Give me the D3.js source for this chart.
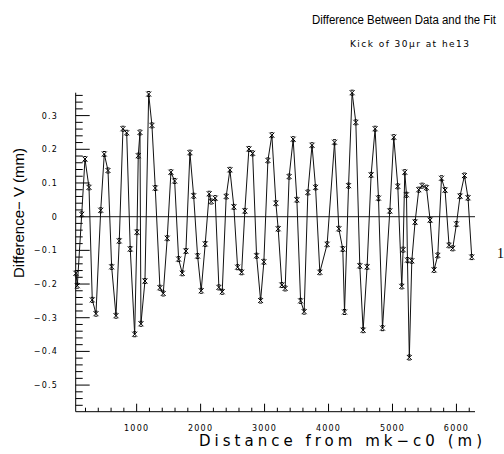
<!DOCTYPE html>
<html><head><meta charset="utf-8">
<script src="https://cdn.jsdelivr.net/npm/d3@7"></script>
<style>
html,body{margin:0;padding:0;background:#fff;}
</style></head>
<body><svg id="c" width="504" height="454" font-family="Liberation Sans, sans-serif"></svg>
<script>
const titleText = "Difference Between Data and the Fit";
const subtitleText = "Kick of 30\u03bcr at he13";
const xLabel = "Distance from mk\u2212c0 (m)";
const yLabel = "Difference\u2212 V (mm)";
const xTickValues = [1000, 2000, 3000, 4000, 5000, 6000];
const yTickValues = [-0.5, -0.4, -0.3, -0.2, -0.1, 0, 0.1, 0.2, 0.3];
const distance = [50,72,141,192,255,306,364,438,494,552,609,677,728,786,844,900,969,1005,1025,1052,1067,1130,1188,1239,
  1291,1364,1416,1478,1536,1594,1656,1713,1770,1833,1891,1953,2009,2072,2134,2166,2228,2286,2338,2400,2458,
  2520,2578,2641,2692,2755,2813,2875,2938,2989,3052,3114,3177,3213,3270,3322,3384,3447,3505,3563,3619,3677,3742,
  3797,3864,3978,4094,4161,4223,4250,4313,4369,4427,4489,4541,4603,4666,4728,4781,4844,4958,5020,5083,5145,5166,
  5192,5219,5234,5263,5302,5353,5411,5463,5531,5588,5650,5708,5766,5822,5884,5942,6000,6056,6125,6181,6239];
const diffV = [-0.168,-0.205,0.007,0.171,0.087,-0.247,-0.288,0.019,0.186,0.137,-0.149,-0.294,-0.072,0.261,0.249,-0.096,-0.349,-0.046,0.181,0.250,-0.318,-0.191,0.364,0.271,
  0.085,-0.211,-0.228,-0.064,0.132,0.106,-0.126,-0.168,-0.102,0.190,0.062,-0.117,-0.220,-0.081,0.068,0.045,0.055,-0.210,-0.223,0.060,0.139,
  0.029,-0.150,-0.165,0.017,0.201,0.188,-0.116,-0.249,-0.134,0.167,0.242,0.040,-0.036,-0.203,-0.213,0.119,0.230,0.050,-0.250,-0.282,0.072,0.212,
  0.087,-0.165,-0.082,0.221,-0.036,-0.096,-0.283,0.092,0.368,0.280,-0.146,-0.337,-0.149,0.124,0.261,0.055,-0.331,0.017,0.236,0.090,-0.207,-0.098,
  0.132,0.065,-0.129,-0.418,-0.131,-0.016,0.080,0.092,0.086,-0.010,-0.158,-0.115,0.114,0.079,-0.085,-0.094,-0.022,0.061,0.122,0.056,-0.120];

const svg = d3.select("#c");
const L = 75.7, R = 475, T = 92.7, B = 411.7;
const x = d3.scaleLinear().domain([47, 6290]).range([L, R]);
const y = d3.scaleLinear().domain([-0.579, 0.368]).range([B, T]);

// title
svg.append("text").attr("x", 312).attr("y", 24).attr("font-size", 12)
  .attr("textLength", 184).attr("lengthAdjust", "spacingAndGlyphs").text(titleText);
svg.append("text").attr("x", 350).attr("y", 47).attr("font-family", "DejaVu Sans").attr("font-size", 9)
  .attr("textLength", 119).attr("lengthAdjust", "spacing").text(subtitleText);

// x axis
const xMinor = d3.range(200, 6290, 200);
const xAxisG = svg.append("g").attr("transform", `translate(0,${B})`);
xAxisG.append("line").attr("x1", L).attr("x2", R).attr("stroke", "#000");
xAxisG.selectAll(".xt").data(xMinor).join("line").attr("class","xt")
  .attr("x1", d => x(d)).attr("x2", d => x(d)).attr("y1", 0)
  .attr("y2", d => d % 1000 === 0 ? -8 : -4).attr("stroke", "#000");
xAxisG.selectAll(".xl").data(xTickValues).join("text").attr("class","xl")
  .attr("x", d => x(d)).attr("y", 19).attr("text-anchor", "middle")
  .attr("font-family", "DejaVu Sans")
  .attr("font-size", 8).attr("letter-spacing", 1.2).text(d => d);

// y axis
const yMinor = d3.range(-0.56, 0.37, 0.02).map(v => Math.round(v * 100) / 100);
const yAxisG = svg.append("g");
yAxisG.append("line").attr("x1", L).attr("x2", L).attr("y1", T).attr("y2", B).attr("stroke", "#000");
yAxisG.selectAll(".yt").data(yMinor).join("line").attr("class","yt")
  .attr("x1", L).attr("x2", d => Math.abs(Math.round(d*100)) % 10 === 0 ? L + 14 : L + 7)
  .attr("y1", d => y(d)).attr("y2", d => y(d)).attr("stroke", "#000");
yAxisG.selectAll(".yl").data(yTickValues).join("text").attr("class","yl")
  .attr("x", 58).attr("y", d => y(d) + 3).attr("text-anchor", "end")
  .attr("font-family", "DejaVu Sans")
  .attr("font-size", 8).attr("letter-spacing", 1.2)
  .text(d => d === 0 ? "0" : (d < 0 ? "\u2212" : "") + Math.abs(d).toFixed(1));

// zero line
svg.append("line").attr("x1", L).attr("x2", R).attr("y1", y(0)).attr("y2", y(0))
  .attr("stroke", "#444").attr("stroke-width", 1.2);

// axis titles
svg.append("text").attr("x", 199).attr("y", 446).attr("font-family", "DejaVu Sans").attr("font-size", 15)
  .attr("textLength", 283).attr("lengthAdjust", "spacing").text(xLabel);
svg.append("text").attr("transform", "translate(24,278) rotate(-90)")
  .attr("font-size", 15)
  .attr("textLength", 130).attr("lengthAdjust", "spacingAndGlyphs").text(yLabel);

// stray character at right edge
svg.append("text").attr("x", 497).attr("y", 258).attr("font-family", "Liberation Serif")
  .attr("font-size", 14).text("1");

// data
const pts = distance.map((d, i) => [d, diffV[i]]);
svg.append("path").datum(pts)
  .attr("d", d3.line().x(d => x(d[0])).y(d => y(d[1])))
  .attr("fill", "none").attr("stroke", "#111").attr("stroke-width", 1);
svg.selectAll(".m").data(pts).join("path").attr("class","m")
  .attr("transform", d => `translate(${x(d[0])},${y(d[1])})`)
  .attr("d", "M-2.5,-2.5L2.5,2.5M-2.5,2.5L2.5,-2.5M-1.5,-2.5L1.5,-2.5M-1.5,2.5L1.5,2.5")
  .attr("fill", "none").attr("stroke", "#000").attr("stroke-width", 1);
</script></body></html>
